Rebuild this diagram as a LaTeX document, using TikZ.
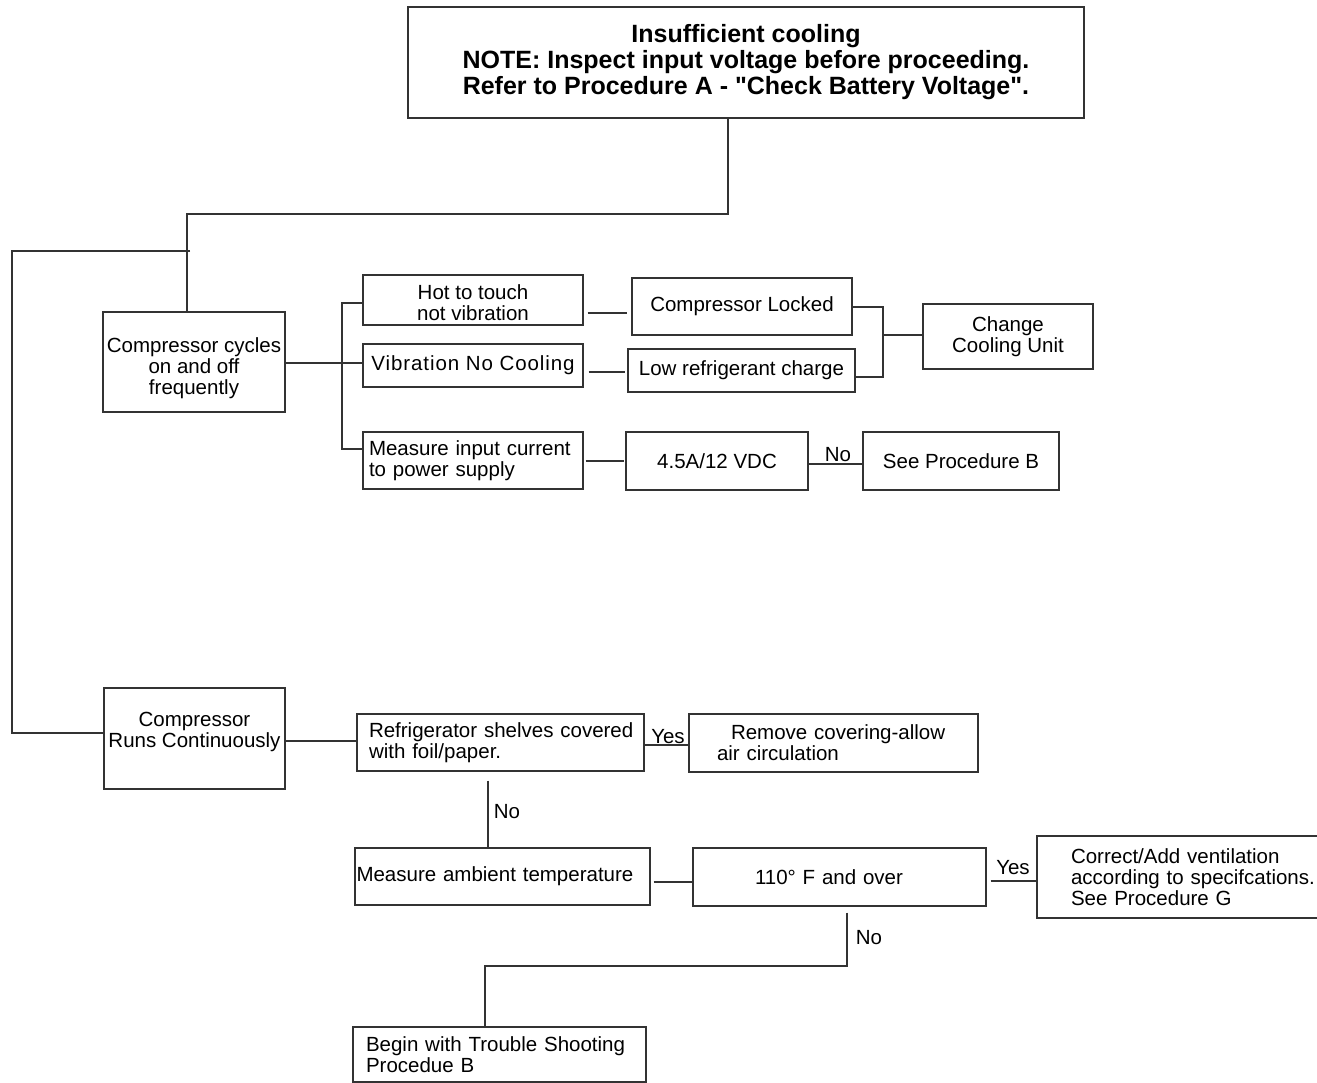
\documentclass[tikz,border=0pt]{standalone}
\usepackage{fontspec}
\setmainfont{Liberation Sans}[Ligatures=TeXOff]
\newfontfamily\spacedfont{Liberation Sans}[LetterSpace=4.5]
\tikzset{
 box/.style={draw=black!80, line width=1.1pt, inner sep=0pt, align=center, font=\fontsize{20.5pt}{21pt}\selectfont},
 lbox/.style={box, align=left},
 lbl/.style={inner sep=0pt, font=\fontsize{20.5pt}{21pt}\selectfont},
 ln/.style={draw=black!80, line width=1.1pt},
}
\begin{document}
\begin{tikzpicture}[x=1pt,y=-1pt]
\fill[white] (0,0) rectangle (1317,1083);
\useasboundingbox (0,0) rectangle (1317,1083);

\node[box, minimum width=676pt, minimum height=111pt, font=\bfseries\fontsize{25pt}{26pt}\selectfont] (top) at (746,62.5)
 {Insufficient cooling\\NOTE: Inspect input voltage before proceeding.\\Refer to Procedure A - "Check Battery Voltage".};

\node[box, minimum width=182pt, minimum height=100pt] (cyc) at (194,362) {\rule{0pt}{27pt}Compressor cycles\\on and off\\frequently};
\node[box, minimum width=220pt, minimum height=50pt] (hot) at (473,300) {\rule{0pt}{21pt}Hot to touch\\not vibration};
\node[box, minimum width=220pt, minimum height=43pt] (vib) at (473,365.5) {\spacedfont Vibration No Cooling};
\node[lbox, text width=220pt, minimum height=57pt] (meas) at (473,460.5) {\hspace*{6pt}Measure input current\\\hspace*{6pt}to power supply};
\node[box, minimum width=220pt, minimum height=57pt] (locked) at (742,306.5) {Compressor Locked};
\node[box, minimum width=227pt, minimum height=43pt] (low) at (741.5,370.5) {Low refrigerant charge};
\node[box, minimum width=170pt, minimum height=65pt] (change) at (1008,336.5) {Change\\Cooling Unit};
\node[box, minimum width=182pt, minimum height=58pt] (amp) at (717,461) {4.5A/12 VDC};
\node[box, minimum width=196pt, minimum height=58pt] (seeB) at (961,461) {See Procedure B};

\node[box, minimum width=181pt, minimum height=101pt] (runs) at (194.5,738.5) {Compressor\\Runs Continuously\\[-4pt]};
\node[lbox, text width=287pt, minimum height=57pt] (shelves) at (500.5,742.5) {\hspace*{12pt}Refrigerator shelves covered\\\hspace*{12pt}with foil/paper.};
\node[lbox, text width=289pt, minimum height=58pt] (remove) at (833.5,743) {\hspace*{42pt}Remove covering-allow\\\hspace*{28pt}air circulation};
\node[lbox, text width=295pt, minimum height=57pt] (ambient) at (502.5,876.5) {\hspace*{1.5pt}Measure ambient temperature};
\node[lbox, text width=293pt, minimum height=58pt] (temp) at (839.5,877) {\hspace*{62pt}110° F and over};
\node[lbox, text width=290pt, minimum height=82pt] (vent) at (1182,877) {\hspace*{34pt}Correct/Add ventilation\\\hspace*{34pt}according to specifcations.\\\hspace*{34pt}See Procedure G};
\node[lbox, text width=293pt, minimum height=55pt] (begin) at (499.5,1054.5) {\hspace*{13pt}Begin with Trouble Shooting\\\hspace*{13pt}Procedue B};

% connectors
\coordinate (j1) at (190,251);
\draw[ln] (top.south -| 728,0) -- (728,214) -- (187,214) -- (cyc.north -| 187,0);
\draw[ln] (j1) -- (12,251) -- (12,733) -- (runs.west |- 0,733);
\draw[ln] (cyc.east |- 0,363) -- (vib.west |- 0,363);
\draw[ln] (hot.west |- 0,303) -- (342,303) -- (342,449) -- (meas.west |- 0,449);
\draw[ln, shorten <=4pt, shorten >=4pt] (hot.east |- 0,313) -- (locked.west |- 0,313);
\draw[ln, shorten <=5pt, shorten >=2pt] (vib.east |- 0,372) -- (low.west |- 0,372);
\draw[ln, shorten <=2pt, shorten >=1pt] (meas.east |- 0,461) -- (amp.west |- 0,461);
\draw[ln] (locked.east |- 0,307) -- (883,307) -- (883,377) -- (low.east |- 0,377);
\draw[ln] (883,335) -- (change.west |- 0,335);
\draw[ln] (amp.east |- 0,464) -- (seeB.west |- 0,464);
\node[lbl] (no1) at (838,455) {No};

\draw[ln] (runs.east |- 0,741) -- (shelves.west |- 0,741);
\draw[ln] (shelves.east |- 0,745) -- (remove.west |- 0,745);
\node[lbl] (yes1) at (668,737) {Yes};
\draw[ln, shorten <=9pt] (shelves.south -| 488,0) -- (ambient.north -| 488,0);
\node[lbl] (no2) at (507,812) {No};
\draw[ln, shorten <=3pt] (ambient.east |- 0,882) -- (temp.west |- 0,882);
\draw[ln, shorten <=4pt] (temp.east |- 0,881) -- (vent.west |- 0,881);
\node[lbl] (yes2) at (1013,868) {Yes};
\draw[ln, shorten <=6pt] (temp.south -| 847,0) -- (847,966) -- (485,966) -- (begin.north -| 485,0);
\node[lbl] (no3) at (869,938) {No};
\end{tikzpicture}
\end{document}
